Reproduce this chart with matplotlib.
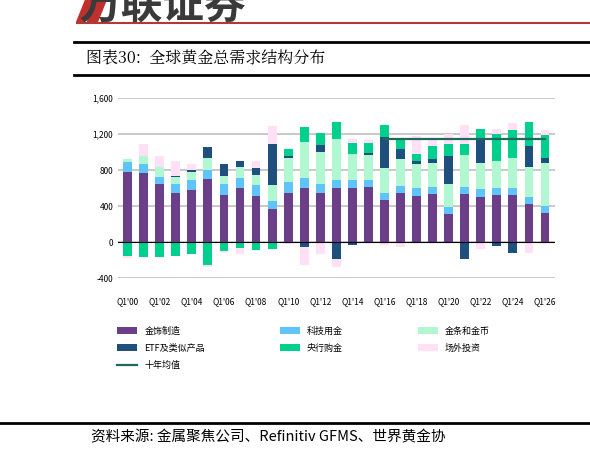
import numpy as np
import matplotlib.pyplot as plt
from matplotlib.lines import Line2D

plt.rcParams['font.family'] = ['Noto Sans CJK SC', 'DejaVu Sans']

years = list(range(2000, 2027))
tick_labels = ["Q1'%02d" % (y % 100) for y in years]

jewelry = [778, 770, 643, 550, 583, 696, 520, 595, 509, 363, 550, 595, 550, 598,
           598, 606, 467, 539, 516, 535, 310, 531, 505, 520, 520, 419, 318]
tech = [112, 98, 82, 93, 105, 108, 120, 119, 127, 93, 116, 112, 97, 90,
        86, 86, 83, 78, 82, 78, 79, 79, 82, 75, 82, 78, 78]
bar_coin = [30, 93, 105, 75, 90, 131, 97, 116, 112, 180, 262, 408, 352, 453,
            296, 273, 273, 307, 270, 266, 258, 362, 292, 306, 326, 337, 483]
etf = [0, 0, 0, 11, 19, 123, 134, 68, 75, 456, 26, -50, 74, -187,
       -30, 26, 348, 112, 33, 41, 307, -190, 265, -45, -120, 232, 60]
central_bank = [-150, -165, -170, -150, -130, -250, -100, -70, -90, -80, 82, 168, 143, 194,
                120, 105, 130, 105, 79, 146, 134, 113, 113, 296, 321, 262, 247]
otc = [-25, 130, 124, 169, 74, -30, -20, -60, 75, 198, -25, -210, -130, -93,
       41, 33, -37, -56, 198, 75, 109, 216, -80, 63, 75, -123, 56]
ten_year_avg = 1148
avg_years = list(range(2016, 2027))

series = [
    ('金饰制造', jewelry, '#6b3f87'),
    ('科技用金', tech, '#5ec4fa'),
    ('金条和金币', bar_coin, '#b0f7d2'),
    ('ETF及类似产品', etf, '#1f4f7c'),
    ('央行购金', central_bank, '#00d08e'),
    ('场外投资', otc, '#ffe0f7'),
]

fig = plt.figure(figsize=(5.9, 4.58), dpi=100)

# header (logo is cut off at the top edge, as in the source page)
fig.text(0.135, 0.985, '万联证券', fontsize=30, fontweight='bold', color='#3a3a3a', va='center')
fig.patches.append(plt.Polygon([[0.13, 0.952], [0.145, 1.0], [0.158, 1.0], [0.143, 0.952]],
                               transform=fig.transFigure, color='#c0302e'))
fig.patches.append(plt.Polygon([[0.148, 0.952], [0.163, 1.0], [0.18, 1.0], [0.165, 0.952]],
                               transform=fig.transFigure, color='#c0302e'))
fig.add_artist(Line2D([0.13, 1.0], [0.949, 0.949], color='#b03a38', lw=1.5))
fig.add_artist(Line2D([0.125, 1.0], [0.908, 0.908], color='black', lw=2))
fig.add_artist(Line2D([0.125, 1.0], [0.836, 0.836], color='black', lw=2))
fig.text(0.145, 0.872, '图表30:  全球黄金总需求结构分布', fontsize=11.5, va='center',
         family=['Noto Serif CJK SC', 'Noto Sans CJK SC', 'DejaVu Serif'])
fig.add_artist(Line2D([0.0, 1.0], [0.077, 0.077], color='black', lw=2))
fig.text(0.155, 0.045, '资料来源: 金属聚焦公司、Refinitiv GFMS、世界黄金协', fontsize=10.5,
         va='center', style='italic')

ax = fig.add_axes([0.2, 0.393, 0.74, 0.393])
x = np.arange(len(years))
pos = np.zeros(len(years))
neg = np.zeros(len(years))
handles = []
for name, vals, color in series:
    v = np.array(vals, dtype=float)
    bottom = np.where(v >= 0, pos, neg)
    h = ax.bar(x, v, 0.55, bottom=bottom, color=color, label=name, zorder=3)
    handles.append(h)
    pos += np.where(v >= 0, v, 0)
    neg += np.where(v < 0, v, 0)

ax_x = [years.index(y) for y in avg_years]
line, = ax.plot(ax_x, [ten_year_avg] * len(ax_x), color='#1e6b5c', lw=1.6, zorder=4, label='十年均值')

ax.set_xlim(-0.6, len(years) - 0.4)
ax.set_ylim(-400, 1600)
ax.set_yticks(range(-400, 1601, 400))
ax.set_yticklabels(['-400', '0', '400', '800', '1,200', '1,600'], fontsize=6)
ax.set_xticks(x[::2])
ax.set_xticklabels(tick_labels[::2], fontsize=6)
ax.tick_params(axis='y', length=0)
ax.tick_params(axis='x', which='both', length=0, pad=14)
ax.grid(axis='y', color='#bfbfbf', lw=1.2, zorder=0)
for s in ax.spines.values():
    s.set_visible(False)
ax.axhline(0, color='black', lw=0.8, zorder=5)

order = [handles[0], handles[3], line, handles[1], handles[4], handles[2], handles[5]]
fig.legend(handles=order, labels=[h.get_label() for h in order], ncol=3,
           loc='upper left', bbox_to_anchor=(0.185, 0.305), frameon=False,
           fontsize=6.5, columnspacing=8.3, handlelength=2.2, handleheight=0.9,
           labelspacing=0.9)

fig.savefig('out.png', dpi=100)
